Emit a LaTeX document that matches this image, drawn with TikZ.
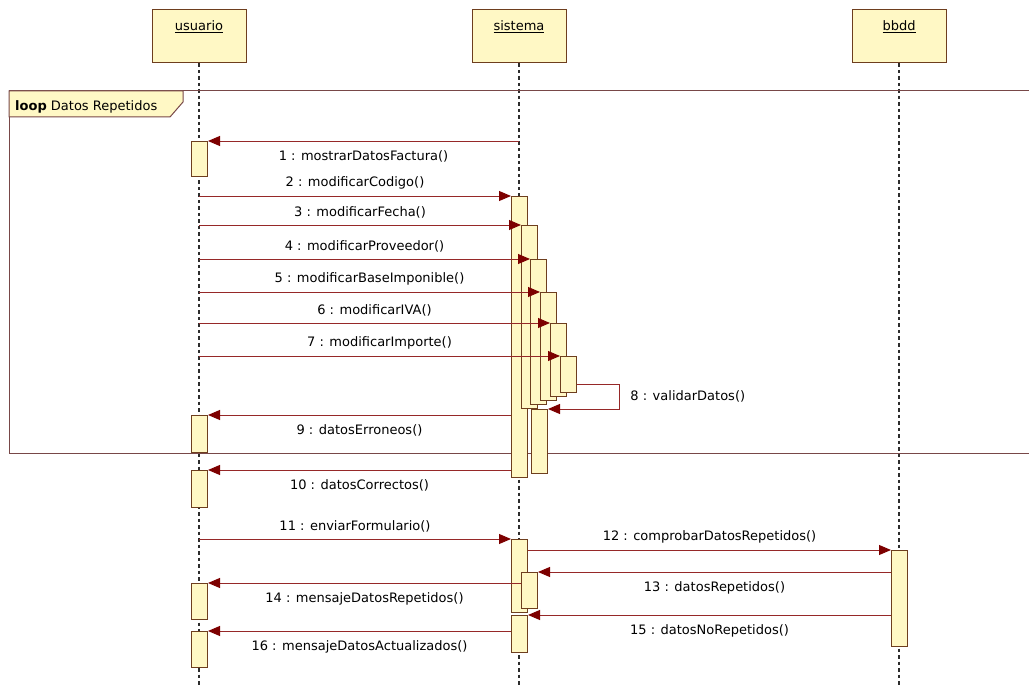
\documentclass[tikz,border=0pt]{standalone}
\usepackage{fontspec}
\setmainfont{DejaVu Sans}
\usetikzlibrary{arrows.meta,positioning}
\definecolor{boxyellow}{RGB}{255,248,197}
\definecolor{boxbrown}{RGB}{110,62,30}
\definecolor{msgred}{RGB}{150,40,40}
\definecolor{tipred}{RGB}{125,0,0}
\definecolor{framebrown}{RGB}{120,72,72}
\definecolor{lifegray}{RGB}{45,45,45}
\tikzset{
  head/.style={draw=boxbrown, line width=1pt, fill=boxyellow,
               minimum width=94pt, minimum height=53pt, inner sep=0pt},
  act/.style={draw=boxbrown, line width=1pt, fill=boxyellow,
              minimum width=16pt, inner sep=0pt, anchor=north west},
  life/.style={lifegray, line width=1.3pt, dash pattern=on 3.5pt off 3pt},
  msg/.style={msgred, line width=0.9pt,
              -{Triangle[length=12pt,width=10pt,color=tipred]}},
  msgtext/.style={inner sep=0pt, text=black},
  frameline/.style={framebrown, line width=1pt},
  headtext/.style={anchor=base, yshift=-21pt, inner sep=0pt},
}

\begin{document}
\begin{tikzpicture}[x=1pt,y=-1pt,font=\fontsize{13}{15}\selectfont]
  \useasboundingbox (0,0) rectangle (1029,687);
  \coordinate (bottom) at (0,685);

  \node[head, label={[headtext]north:\underline{usuario}}] (usuario) at (199,36.5) {};
  \node[head, label={[headtext]north:\underline{sistema}}] (sistema) at (519,36.5) {};
  \node[head, label={[headtext]north:\underline{bbdd}}] (bbdd) at (899,36.5) {};
  \draw[life] (usuario.south) -- (usuario.south |- bottom);
  \draw[life] (sistema.south) -- (sistema.south |- bottom);
  \draw[life] (bbdd.south) -- (bbdd.south |- bottom);

  \draw[frameline] (1029,91) -- (9,91) -- (9,453) -- (1029,453);
  \draw[frameline, fill=boxyellow] (9,91) -- (183,91) -- (183,102) -- (170,117) -- (9,117) -- cycle;
  \node[anchor=base west, inner sep=0pt] (looplab) at (15,111) {\textbf{loop} Datos Repetidos};

  \node[act, minimum height=35pt] (ua1) at (191,141) {};
  \node[act, minimum height=37pt] (ua2) at (191,415) {};
  \node[act, minimum height=37pt] (ua3) at (191,470) {};
  \node[act, minimum height=36pt] (ua4) at (191,583) {};
  \node[act, minimum height=36pt] (ua5) at (191,631) {};

  \node[act, minimum height=281pt] (a1) at (511,196) {};
  \node[act, minimum height=183pt] (a2) at (521,225) {};
  \node[act, minimum height=145pt] (a3) at (530,259) {};
  \node[act, minimum height=108pt] (a4) at (540,292) {};
  \node[act, minimum height=73pt] (a5) at (550,323) {};
  \node[act, minimum height=36pt] (a6) at (560,356) {};
  \node[act, minimum height=64pt] (a7) at (531,409) {};
  \node[act, minimum height=73pt] (a8) at (511,539) {};
  \node[act, minimum height=36pt] (a9) at (521,572) {};
  \node[act, minimum height=37pt] (a10) at (511,615) {};

  \node[act, minimum height=96pt] (b1) at (891,550) {};

  \draw[msg] (sistema |- ua1.north) -- node[msgtext, below=9pt] {1 : mostrarDatosFactura()} (ua1.north east);
  \draw[msg] (usuario |- a1.north) -- node[msgtext, above=6pt] {2 : modificarCodigo()} (a1.north west);
  \draw[msg] (usuario |- a2.north) -- node[msgtext, above=6pt] {3 : modificarFecha()} (a2.north west);
  \draw[msg] (usuario |- a3.north) -- node[msgtext, above=6pt] {4 : modificarProveedor()} (a3.north west);
  \draw[msg] (usuario |- a4.north) -- node[msgtext, above=6pt] {5 : modificarBaseImponible()} (a4.north west);
  \draw[msg] (usuario |- a5.north) -- node[msgtext, above=6pt] {6 : modificarIVA()} (a5.north west);
  \draw[msg] (usuario |- a6.north) -- node[msgtext, above=6pt] {7 : modificarImporte()} (a6.north west);
  \draw[msg] ([yshift=9pt]a6.south east) -- ++(42,0)
    |- node[msgtext, pos=0.25, right=11pt] {8 : validarDatos()} (a7.north east);
  \draw[msg] (a1.west |- ua2.north) -- node[msgtext, below=9pt] {9 : datosErroneos()} (ua2.north east);
  \draw[msg] (a1.west |- ua3.north) -- node[msgtext, below=9pt] {10 : datosCorrectos()} (ua3.north east);
  \draw[msg] (usuario |- a8.north) -- node[msgtext, above=6pt] {11 : enviarFormulario()} (a8.north west);
  \draw[msg] (a8.east |- b1.north) -- node[msgtext, above=6pt] {12 : comprobarDatosRepetidos()} (b1.north west);
  \draw[msg] (b1.west |- a9.north) -- node[msgtext, below=9pt] {13 : datosRepetidos()} (a9.north east);
  \draw[msg] (a9.west |- ua4.north) -- node[msgtext, below=9pt] {14 : mensajeDatosRepetidos()} (ua4.north east);
  \draw[msg] (b1.west |- a10.north) -- node[msgtext, below=9pt] {15 : datosNoRepetidos()} (a10.north east);
  \draw[msg] (a10.west |- ua5.north) -- node[msgtext, below=9pt] {16 : mensajeDatosActualizados()} (ua5.north east);
\end{tikzpicture}
\end{document}
